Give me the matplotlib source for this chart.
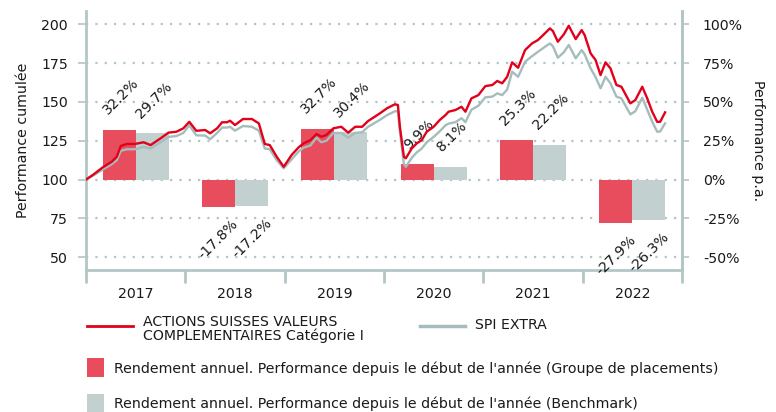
import matplotlib
matplotlib.use("Agg")
import matplotlib.pyplot as plt
from matplotlib.lines import Line2D
from matplotlib.patches import Rectangle

# ---------------- data ----------------
years = [2017, 2018, 2019, 2020, 2021, 2022]
fund_annual = [32.2, -17.8, 32.7, 9.9, 25.3, -27.9]
bench_annual = [29.7, -17.2, 30.4, 8.1, 22.2, -26.3]

dates = [2017.00, 2017.07, 2017.17, 2017.26, 2017.31, 2017.35, 2017.41, 2017.49, 2017.58, 2017.65,
         2017.75, 2017.83, 2017.91, 2017.98, 2018.04, 2018.11, 2018.20, 2018.25, 2018.32, 2018.37,
         2018.42, 2018.45, 2018.50, 2018.58, 2018.67, 2018.74, 2018.80, 2018.85, 2018.92, 2018.99,
         2019.07, 2019.14, 2019.19, 2019.26, 2019.32, 2019.37, 2019.42, 2019.49, 2019.57, 2019.64,
         2019.71, 2019.78, 2019.84, 2019.96, 2020.03, 2020.11, 2020.14, 2020.16, 2020.20, 2020.22,
         2020.28, 2020.33, 2020.38, 2020.43, 2020.50, 2020.56, 2020.62, 2020.65, 2020.72, 2020.78,
         2020.82, 2020.88, 2020.95, 2021.02, 2021.09, 2021.14, 2021.19, 2021.24, 2021.29, 2021.35,
         2021.42, 2021.49, 2021.55, 2021.62, 2021.67, 2021.70, 2021.75, 2021.81, 2021.86, 2021.93,
         2021.99, 2022.02, 2022.08, 2022.13, 2022.18, 2022.23, 2022.28, 2022.34, 2022.39, 2022.48,
         2022.53, 2022.60, 2022.65, 2022.70, 2022.75, 2022.78, 2022.83]

fund_cum = [100.0, 103.0, 107.9, 111.5, 114.7, 121.6, 122.9, 122.9, 124.0, 122.2,
            126.5, 130.2, 130.8, 133.0, 137.2, 131.4, 131.9, 129.8, 133.0, 136.9,
            136.9, 137.9, 135.1, 139.0, 139.0, 136.2, 122.9, 122.2, 114.7, 108.2,
            115.8, 120.7, 123.3, 125.4, 129.3, 127.6, 128.7, 133.0, 134.0, 130.2,
            134.0, 134.0, 137.7, 142.7, 145.9, 148.5, 148.0, 134.0, 114.7, 113.7,
            120.1, 123.3, 125.4, 130.8, 134.0, 138.3, 141.6, 143.7, 144.8, 146.9,
            143.7, 152.3, 154.4, 160.2, 160.9, 163.5, 162.0, 166.2, 175.5, 172.0,
            183.4, 187.7, 189.9, 194.2, 197.4, 195.7, 188.8, 193.5, 199.1, 190.5,
            196.3, 193.1, 181.3, 177.0, 167.3, 175.5, 171.6, 160.9, 159.8, 149.1,
            151.2, 159.8, 152.3, 143.7, 137.2, 137.2, 143.3]

bench_cum = [100.0, 102.5, 106.5, 110.0, 112.5, 118.5, 119.5, 119.5, 121.0, 120.0,
             124.0, 127.5, 128.0, 130.0, 135.0, 128.5, 128.3, 126.0, 130.0, 133.5,
             133.5, 134.0, 131.5, 134.5, 134.0, 131.5, 120.0, 119.5, 112.5, 107.2,
             113.0, 118.0, 120.5, 122.0, 127.0, 124.0, 125.0, 130.0, 130.0, 127.0,
             130.0, 130.5, 134.0, 138.5, 141.5, 144.0, 144.0, 131.0, 110.0, 108.2,
             114.0, 117.5, 120.0, 124.0, 127.5, 131.0, 135.0, 136.0, 137.0, 139.5,
             137.0, 145.0, 147.5, 153.0, 153.4, 155.5, 154.4, 158.0, 169.5, 166.2,
             175.9, 179.5, 182.3, 185.5, 187.7, 186.0, 178.5, 182.0, 186.7, 178.1,
             183.4, 180.7, 171.6, 166.0, 158.8, 166.2, 162.0, 153.4, 152.3, 142.0,
             144.0, 152.7, 145.0, 137.2, 130.8, 131.0, 136.2]

left_ticks = [50, 75, 100, 125, 150, 175, 200]
right_ticks = [-50, -25, 0, 25, 50, 75, 100]

fund_name = "ACTIONS SUISSES VALEURS\nCOMPLEMENTAIRES Catégorie I"
bench_name = "SPI EXTRA"
bar_fund_label = "Rendement annuel. Performance depuis le début de l'année (Groupe de placements)"
bar_bench_label = "Rendement annuel. Performance depuis le début de l'année (Benchmark)"

# ---------------- style ----------------
RED_LINE = "#e2001a"
GREY_LINE = "#a6bcbc"
RED_BAR = "#e84d5d"
GREY_BAR = "#c2d0d0"
AX_COL = "#b3c6c6"
TXT = "#1a1a1a"
FS = 10.2

plt.rcParams['font.family'] = ['DejaVu Sans']

W, H = 776, 412
fig = plt.figure(figsize=(W / 100, H / 100), dpi=100)
ax = fig.add_axes([86 / W, 1 - 270 / H, (682 - 86) / W, (270 - 11) / H])

ylo, yhi = 41.7, 208.6
ax.set_xlim(2017, 2023)
ax.set_ylim(ylo, yhi)

# grid
for t in left_ticks:
    ax.axhline(t, color=AX_COL, lw=1.6, ls=(0, (1, 3.2)), zorder=1, clip_on=False)

# bars
bw = 1 / 3
for y, fv, bv in zip(years, fund_annual, bench_annual):
    xf = y + 0.5 - bw / 2
    xb = y + 0.5 + bw / 2
    ax.bar(xf, fv, width=bw, bottom=100, color=RED_BAR, zorder=2, linewidth=0)
    ax.bar(xb, bv, width=bw, bottom=100, color=GREY_BAR, zorder=2, linewidth=0)
    for x, v in ((xf, fv), (xb, bv)):
        if v >= 0:
            ax.annotate(f"{v:.1f}%", (x, 100 + v), xytext=(1, 9), textcoords="offset points",
                        rotation=45, ha="center", va="bottom", fontsize=FS, color=TXT, zorder=3)
        else:
            ax.annotate(f"{v:.1f}%", (x, 100 + v), xytext=(0, -7), textcoords="offset points",
                        rotation=45, ha="center", va="top", fontsize=FS, color=TXT, zorder=3)

# lines
ax.plot(dates, bench_cum, color=GREY_LINE, lw=1.7, zorder=4)
ax.plot(dates, fund_cum, color=RED_LINE, lw=1.7, zorder=5)

# axes styling
ax.spines["top"].set_visible(False)
for s in ("left", "right", "bottom"):
    ax.spines[s].set_color(AX_COL)
    ax.spines[s].set_linewidth(2)

ax.set_yticks(left_ticks)
ax.set_yticklabels([str(t) for t in left_ticks], fontsize=FS, color=TXT)
ax.tick_params(axis="y", length=6, width=1.2, color=AX_COL, pad=7)

ax.set_xticks(list(range(2017, 2024)))
ax.set_xticklabels([])
ax.set_xticks([y + 0.5 for y in years], minor=True)
ax.set_xticklabels([str(y) for y in years], minor=True, fontsize=FS, color=TXT)
ax.tick_params(axis="x", which="major", length=9, width=2, color=AX_COL, direction="out")
ax.tick_params(axis="x", which="minor", length=0, pad=12)

ax.set_ylabel("Performance cumulée", fontsize=FS, color=TXT, labelpad=8)

ax2 = ax.twinx()
ax2.set_ylim(ylo - 100, yhi - 100)
ax2.set_yticks(right_ticks)
ax2.set_yticklabels([f"{t}%" for t in right_ticks], fontsize=FS, color=TXT)
ax2.tick_params(axis="y", length=5, width=1.2, color=AX_COL, pad=10)
for s in ("top", "left", "bottom"):
    ax2.spines[s].set_visible(False)
ax2.spines["right"].set_color(AX_COL)
ax2.spines["right"].set_linewidth(2)
ax2.set_ylabel("Performance p.a.", fontsize=FS, color=TXT, rotation=270, labelpad=16)

# legend (manual)
def fx(px):
    return px / W

def fy(py):
    return 1 - py / H

fig.add_artist(Line2D([fx(87), fx(133)], [fy(326), fy(326)], color=RED_LINE, lw=2))
fig.text(fx(143), fy(329), fund_name, fontsize=FS, color=TXT, va="center", ha="left", linespacing=1.0)
fig.add_artist(Line2D([fx(420), fx(465)], [fy(326), fy(326)], color=GREY_LINE, lw=2.5))
fig.text(fx(475), fy(325), bench_name, fontsize=FS, color=TXT, va="center", ha="left")

fig.add_artist(Rectangle((fx(87), fy(377)), fx(17), 19 / H, color=RED_BAR, lw=0))
fig.text(fx(114), fy(369), bar_fund_label, fontsize=FS, color=TXT, va="center", ha="left")
fig.add_artist(Rectangle((fx(87), fy(413)), fx(17), 19 / H, color=GREY_BAR, lw=0))
fig.text(fx(114), fy(404), bar_bench_label, fontsize=FS, color=TXT, va="center", ha="left")

fig.savefig("out.png", dpi=100)
